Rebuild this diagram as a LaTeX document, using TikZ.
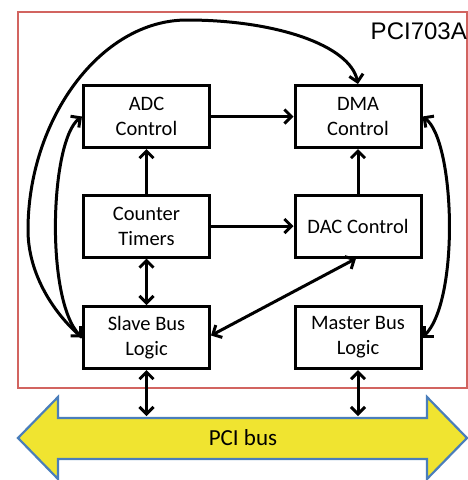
\documentclass[tikz,border=0pt]{standalone}
\usepackage{fontspec}
\newfontfamily\boxfont{Carlito}
\newfontfamily\labelfont{Liberation Sans}
\usetikzlibrary{arrows.meta}

\definecolor{cardred}{RGB}{210,100,96}
\definecolor{busyellow}{RGB}{240,228,48}
\definecolor{busblue}{RGB}{74,126,187}

\tikzset{
  block/.style={draw=black, line width=3pt, fill=white, minimum width=126pt,
    minimum height=62pt, align=center, inner sep=0pt,
    font=\boxfont\fontsize{20.5}{25}\selectfont},
  link/.style={line width=3pt, -{Straight Barb[length=7pt, width=14pt]}},
  dlink/.style={line width=3pt, {Straight Barb[length=7pt, width=14pt]}-{Straight Barb[length=7pt, width=14pt]}},
}

\begin{document}
\begin{tikzpicture}[x=1pt, y=-1pt]
\useasboundingbox (0,0) rectangle (468,480);

% board outline
\draw[cardred, line width=2.6pt] (18,12) rectangle (467,388);
\node[font=\labelfont\fontsize{24}{24}\selectfont, anchor=base east, inner sep=0pt]
  (board) at (467,39) {PCI703A};

% PCI bus double arrow
\draw[busblue, fill=busyellow, line width=2.2pt, line join=miter]
  (18,438) -- (58,397) -- (58,418) -- (427,418) -- (427,397) -- (467,438)
  -- (427,479) -- (427,459) -- (58,459) -- (58,479) -- cycle;
\node[font=\boxfont\fontsize{23}{23}\selectfont, inner sep=0pt] (bus) at (243,438) {PCI bus};
\coordinate (busL) at (146.5,416);
\coordinate (busR) at (358,416);

% function blocks
\node[block] (adc)     at (146.5,116.5) {ADC\\Control};
\node[block] (dma)     at (358,116.5)   {DMA\\Control};
\node[block] (counter) at (146.5,226)   {Counter\\Timers};
\node[block] (dac)     at (358,226)     {DAC Control};
\node[block] (slave)   at (146.5,337.5) {Slave Bus\\Logic};
\node[block] (master)  at (358,337.5)   {Master Bus\\Logic};

% straight connections
\draw[link] (adc) -- (dma);
\draw[link] (counter) -- (adc);
\draw[link] (dac) -- (dma);
\draw[link] (counter) -- (dac);
\draw[dlink] (counter) -- (slave);
\draw[dlink] ([yshift=2pt]slave.east) -- ([xshift=-2pt]dac.south);
\draw[dlink] (slave) -- (busL);
\draw[dlink] (master) -- (busR);

% curved connections
\draw[link] (slave.west) .. controls (55,315) and (28,275) .. (28,230)
  .. controls (28,120) and (100,20) .. (187,20)
  .. controls (275,20) and (350,45) .. (dma.north);
\draw[dlink] (slave.west) .. controls (45,300) and (50,140) .. (adc.west);
\draw[dlink] (master.east) .. controls (460,300) and (455,140) .. (dma.east);
\end{tikzpicture}
\end{document}
